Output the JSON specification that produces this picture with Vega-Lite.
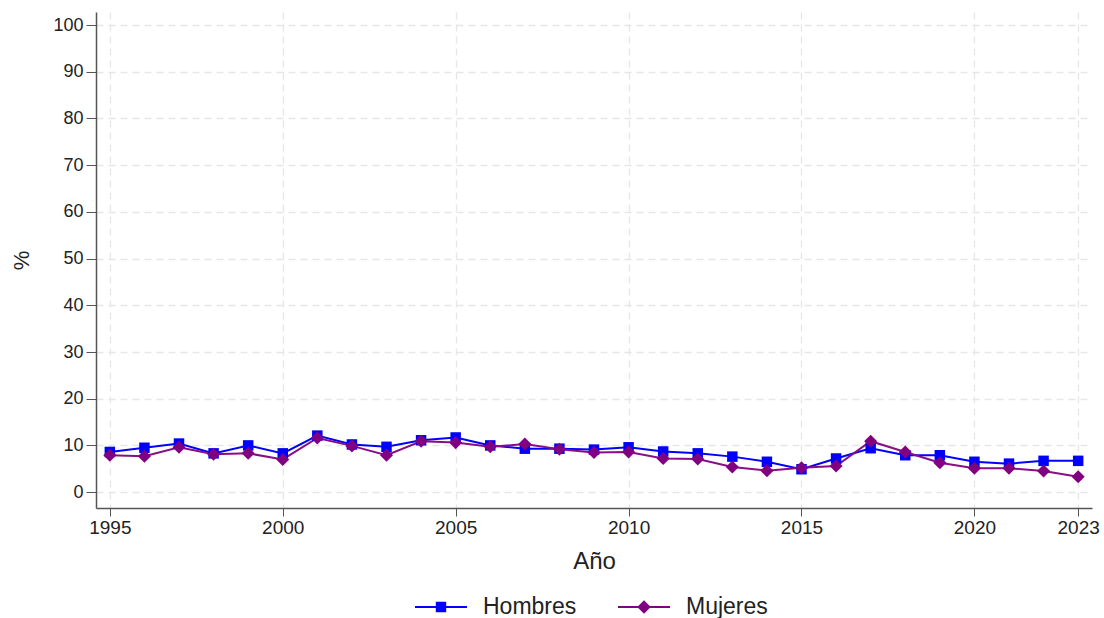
{
  "$schema": "https://vega.github.io/schema/vega-lite/v6.json",
  "width": 996,
  "height": 496,
  "autosize": "none",
  "padding": {"left": 96, "top": 12, "right": 12, "bottom": 110},
  "background": "white",
  "config": {
    "font": "Liberation Sans",
    "view": {"stroke": null},
    "axis": {
      "domainColor": "#555555",
      "domainWidth": 1.5,
      "tickColor": "#555555",
      "tickSize": 8,
      "labelColor": "#222222",
      "labelFont": "Liberation Sans",
      "labelFontSize": 18,
      "titleFont": "Liberation Sans",
      "titleFontWeight": "normal",
      "titleColor": "#222222",
      "gridColor": "#e6e6e6",
      "gridDash": [7, 5],
      "gridWidth": 1.3
    }
  },
  "data": {
    "values": [
      {"year": 1995, "series": "Hombres", "value": 8.6}, {"year": 1995, "series": "Mujeres", "value": 7.9},
      {"year": 1996, "series": "Hombres", "value": 9.5}, {"year": 1996, "series": "Mujeres", "value": 7.7},
      {"year": 1997, "series": "Hombres", "value": 10.4}, {"year": 1997, "series": "Mujeres", "value": 9.6},
      {"year": 1998, "series": "Hombres", "value": 8.3}, {"year": 1998, "series": "Mujeres", "value": 8.1},
      {"year": 1999, "series": "Hombres", "value": 10.0}, {"year": 1999, "series": "Mujeres", "value": 8.3},
      {"year": 2000, "series": "Hombres", "value": 8.3}, {"year": 2000, "series": "Mujeres", "value": 7.0},
      {"year": 2001, "series": "Hombres", "value": 12.1}, {"year": 2001, "series": "Mujeres", "value": 11.6},
      {"year": 2002, "series": "Hombres", "value": 10.2}, {"year": 2002, "series": "Mujeres", "value": 9.9},
      {"year": 2003, "series": "Hombres", "value": 9.7}, {"year": 2003, "series": "Mujeres", "value": 7.9},
      {"year": 2004, "series": "Hombres", "value": 11.1}, {"year": 2004, "series": "Mujeres", "value": 10.9},
      {"year": 2005, "series": "Hombres", "value": 11.7}, {"year": 2005, "series": "Mujeres", "value": 10.6},
      {"year": 2006, "series": "Hombres", "value": 10.0}, {"year": 2006, "series": "Mujeres", "value": 9.7},
      {"year": 2007, "series": "Hombres", "value": 9.3}, {"year": 2007, "series": "Mujeres", "value": 10.3},
      {"year": 2008, "series": "Hombres", "value": 9.3}, {"year": 2008, "series": "Mujeres", "value": 9.2},
      {"year": 2009, "series": "Hombres", "value": 9.1}, {"year": 2009, "series": "Mujeres", "value": 8.5},
      {"year": 2010, "series": "Hombres", "value": 9.6}, {"year": 2010, "series": "Mujeres", "value": 8.6},
      {"year": 2011, "series": "Hombres", "value": 8.7}, {"year": 2011, "series": "Mujeres", "value": 7.2},
      {"year": 2012, "series": "Hombres", "value": 8.3}, {"year": 2012, "series": "Mujeres", "value": 7.1},
      {"year": 2013, "series": "Hombres", "value": 7.6}, {"year": 2013, "series": "Mujeres", "value": 5.4},
      {"year": 2014, "series": "Hombres", "value": 6.5}, {"year": 2014, "series": "Mujeres", "value": 4.6},
      {"year": 2015, "series": "Hombres", "value": 4.9}, {"year": 2015, "series": "Mujeres", "value": 5.2},
      {"year": 2016, "series": "Hombres", "value": 7.2}, {"year": 2016, "series": "Mujeres", "value": 5.6},
      {"year": 2017, "series": "Hombres", "value": 9.4}, {"year": 2017, "series": "Mujeres", "value": 10.9},
      {"year": 2018, "series": "Hombres", "value": 7.9}, {"year": 2018, "series": "Mujeres", "value": 8.6},
      {"year": 2019, "series": "Hombres", "value": 7.9}, {"year": 2019, "series": "Mujeres", "value": 6.3},
      {"year": 2020, "series": "Hombres", "value": 6.5}, {"year": 2020, "series": "Mujeres", "value": 5.1},
      {"year": 2021, "series": "Hombres", "value": 6.1}, {"year": 2021, "series": "Mujeres", "value": 5.1},
      {"year": 2022, "series": "Hombres", "value": 6.7}, {"year": 2022, "series": "Mujeres", "value": 4.5},
      {"year": 2023, "series": "Hombres", "value": 6.7}, {"year": 2023, "series": "Mujeres", "value": 3.3}
    ]
  },
  "encoding": {
    "x": {
      "field": "year", "type": "quantitative",
      "scale": {"domain": [1994.6, 2023.4], "nice": false, "zero": false},
      "axis": {"values": [1995, 2000, 2005, 2010, 2015, 2020, 2023], "format": "d", "title": "Año", "titleFontSize": 24, "titlePadding": 12, "labelPadding": 2, "labelFontSize": 19}
    },
    "y": {
      "field": "value", "type": "quantitative",
      "scale": {"domain": [-3.4, 102.8], "nice": false, "zero": false},
      "axis": {"values": [0, 10, 20, 30, 40, 50, 60, 70, 80, 90, 100], "title": "%", "titleFontSize": 22, "titlePadding": 19, "labelPadding": 3, "tickSize": 10}
    }
  },
  "layer": [
    {
      "mark": {"type": "line", "strokeWidth": 2},
      "encoding": {
        "color": {
          "field": "series", "type": "nominal",
          "scale": {"domain": ["Hombres", "Mujeres"], "range": ["#0000ff", "#880e88"]},
          "legend": {
            "title": null,
            "orient": "none",
            "legendX": 319,
            "legendY": 569,
            "direction": "horizontal",
            "labelFontSize": 23,
            "labelColor": "#222222",
            "labelFont": "Liberation Sans",
            "symbolSize": 2704,
            "symbolStrokeWidth": 0,
            "labelOffset": 16,
            "columnPadding": 41,
            "encode": {
              "symbols": {
                "update": {
                  "shape": {"signal": "datum.value === 'Hombres' ? 'M-1,-0.038H1V0.038H-1Z M-0.2,-0.2H0.2V0.2H-0.2Z' : 'M-1,-0.038H1V0.038H-1Z M0,-0.26L0.26,0L0,0.26L-0.26,0Z'"},
                  "fill": {"signal": "datum.value === 'Hombres' ? '#0000ff' : '#800080'"},
                  "fillOpacity": {"value": 1},
                  "strokeWidth": {"value": 0},
                  "opacity": {"value": 1}
                }
              }
            }
          }
        }
      }
    },
    {
      "transform": [{"filter": "datum.series === 'Hombres'"}],
      "mark": {"type": "point", "filled": true, "opacity": 1, "shape": "square", "size": 110, "color": "#0000ff"}
    },
    {
      "transform": [{"filter": "datum.series === 'Mujeres'"}],
      "mark": {"type": "point", "filled": true, "opacity": 1, "shape": "diamond", "size": 170, "color": "#800080"}
    }
  ]
}
